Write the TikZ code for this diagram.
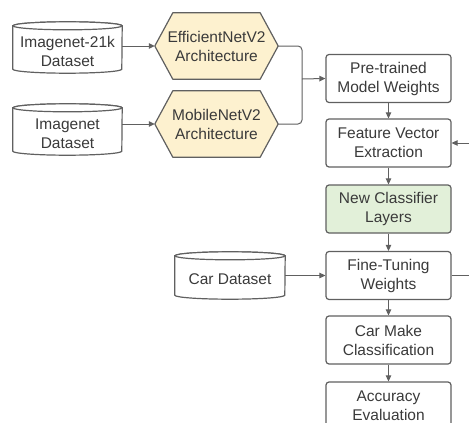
\documentclass[tikz,border=0pt]{standalone}
\usepackage{fontspec}
\setmainfont{Liberation Sans}
\usetikzlibrary{arrows.meta,backgrounds,calc}
\definecolor{edge}{HTML}{606060}
\definecolor{txt}{HTML}{3A3A3A}
\definecolor{hexfill}{HTML}{FDF1CF}
\definecolor{greenfill}{HTML}{E2F0D9}
\tikzset{
  lbl/.style={font=\fontsize{15.5}{19}\selectfont, text=txt, align=center, inner sep=0pt},
  procbox/.style={lbl, draw=edge, line width=1.2pt, rounded corners=3pt, fill=white,
                  minimum width=125pt, minimum height=48pt},
  greenbox/.style={procbox, fill=greenfill},
  cylbody/.style={lbl},
  hexbody/.style={lbl, minimum width=123pt, minimum height=66pt},
  hexdraw/.style={draw=edge, line width=1.2pt, fill=hexfill, line join=round},
  cyldraw/.style={draw=edge, line width=1.2pt, fill=white},
  conn/.style={draw=edge, line width=1pt, -{Triangle[length=6pt,width=5.5pt]}},
  plain/.style={draw=edge, line width=1pt},
}
% cylinder around node #1, x radius #2
\newcommand\drawcyl[2]{%
  \draw[cyldraw] ([yshift=4pt]#1.north west) -- ([yshift=4pt]#1.south west)
    arc[start angle=180, end angle=360, x radius=#2, y radius=4pt]
    -- ([yshift=4pt]#1.north east)
    arc[start angle=0, end angle=180, x radius=#2, y radius=4pt] -- cycle;
  \draw[cyldraw] ([yshift=4pt]#1.north) ellipse[x radius=#2, y radius=4pt];
}
\newcommand\drawhex[1]{%
  \draw[hexdraw] (#1.west) -- ([xshift=18pt]#1.north west) -- ([xshift=-18pt]#1.north east)
    -- (#1.east) -- ([xshift=-18pt]#1.south east) -- ([xshift=18pt]#1.south west) -- cycle;
}
\begin{document}
\begin{tikzpicture}[x=1pt,y=-1pt]
\useasboundingbox (0,0) rectangle (469,423);
% datasets
\node[cylbody, minimum width=109pt, minimum height=43pt] (d1) at (67.5,51.5) {Imagenet-21k\\Dataset};
\node[cylbody, minimum width=109pt, minimum height=43pt] (d2) at (67.5,133.5) {Imagenet\\Dataset};
\node[cylbody, minimum width=110pt, minimum height=39pt] (cd) at (230,279.5) {Car Dataset};
% architectures
\node[hexbody] (h1) at (216.5,46) {EfficientNetV2\\Architecture};
\node[hexbody] (h2) at (216.5,124) {MobileNetV2\\Architecture};
% process boxes
\node[procbox] (pre) at (388.5,78.5) {Pre-trained\\Model Weights};
\node[procbox] (fv) at (388.5,143) {Feature Vector\\Extraction};
\node[greenbox] (nc) at (388.5,209) {New Classifier\\Layers};
\node[procbox] (ft) at (388.5,275.5) {Fine-Tuning\\Weights};
\node[procbox] (cm) at (388.5,340) {Car Make\\Classification};
\node[procbox] (ae) at (388.5,406) {Accuracy\\Evaluation};
\coordinate (fvin) at (469,143);
\coordinate (ftout) at (469,275.5);
\coordinate (join) at (302,79);
\begin{scope}[on background layer]
  \drawcyl{d1}{54.5pt}
  \drawcyl{d2}{54.5pt}
  \drawcyl{cd}{55pt}
  \drawhex{h1}
  \drawhex{h2}
\end{scope}
% connectors
\draw[conn] (d1.east |- h1.west) -- (h1.west);
\draw[conn] (d2.east |- h2.west) -- (h2.west);
\draw[plain, rounded corners=4pt] (h1.east) -| (join);
\draw[plain, rounded corners=4pt] (h2.east) -| (join);
\draw[conn] (join) -- (pre.west);
\draw[conn] (pre) -- (fv);
\draw[conn] (fv) -- (nc);
\draw[conn] (nc) -- (ft);
\draw[conn] (ft) -- (cm);
\draw[conn] (cm) -- (ae);
\draw[conn] (fvin) -- (fv.east);
\draw[plain] (ft.east) -- (ftout);
\draw[conn] (cd.east |- ft.west) -- (ft.west);
\end{tikzpicture}
\end{document}
